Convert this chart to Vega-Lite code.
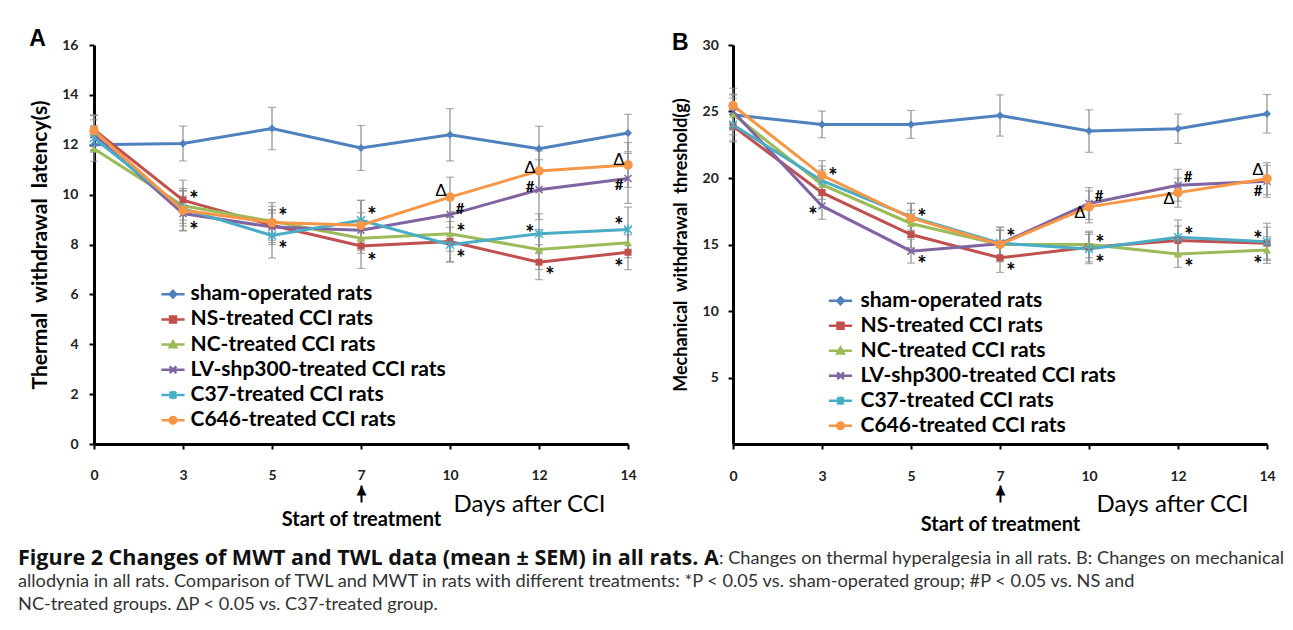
{
  "$schema": "https://vega.github.io/schema/vega-lite/v6.json",
  "padding": {"left": 18, "top": 27, "right": 5, "bottom": 5},
  "background": "white",
  "config": {
    "view": {"stroke": null},
    "axis": {"grid": false, "domainColor": "black", "domainWidth": 3, "tickColor": "black", "tickWidth": 2, "tickSize": 5, "labelFont": "Lato", "labelFontWeight": "bold", "labelFontSize": 14, "labelColor": "#222", "titleFont": "Lato", "titleColor": "black"}
  },
  "datasets": {
    "twl": [
      {"group": "sham-operated rats", "day": 0, "value": 12.0, "sem": 0.3},
      {"group": "sham-operated rats", "day": 3, "value": 12.05, "sem": 0.7},
      {"group": "sham-operated rats", "day": 5, "value": 12.65, "sem": 0.85},
      {"group": "sham-operated rats", "day": 7, "value": 11.87, "sem": 0.9},
      {"group": "sham-operated rats", "day": 10, "value": 12.4, "sem": 1.05},
      {"group": "sham-operated rats", "day": 12, "value": 11.84, "sem": 0.9},
      {"group": "sham-operated rats", "day": 14, "value": 12.47, "sem": 0.75},
      {"group": "NS-treated CCI rats", "day": 0, "value": 12.6, "sem": 0.6},
      {"group": "NS-treated CCI rats", "day": 3, "value": 9.78, "sem": 0.8},
      {"group": "NS-treated CCI rats", "day": 5, "value": 8.77, "sem": 0.6},
      {"group": "NS-treated CCI rats", "day": 7, "value": 7.94, "sem": 0.9},
      {"group": "NS-treated CCI rats", "day": 10, "value": 8.12, "sem": 0.8},
      {"group": "NS-treated CCI rats", "day": 12, "value": 7.29, "sem": 0.7},
      {"group": "NS-treated CCI rats", "day": 14, "value": 7.69, "sem": 0.7},
      {"group": "NC-treated CCI rats", "day": 0, "value": 11.84, "sem": 0.5},
      {"group": "NC-treated CCI rats", "day": 3, "value": 9.55, "sem": 0.7},
      {"group": "NC-treated CCI rats", "day": 5, "value": 8.93, "sem": 0.6},
      {"group": "NC-treated CCI rats", "day": 7, "value": 8.25, "sem": 0.6},
      {"group": "NC-treated CCI rats", "day": 10, "value": 8.43, "sem": 0.7},
      {"group": "NC-treated CCI rats", "day": 12, "value": 7.8, "sem": 0.8},
      {"group": "NC-treated CCI rats", "day": 14, "value": 8.07, "sem": 0.6},
      {"group": "LV-shp300-treated CCI rats", "day": 0, "value": 12.4, "sem": 0.6},
      {"group": "LV-shp300-treated CCI rats", "day": 3, "value": 9.24, "sem": 0.7},
      {"group": "LV-shp300-treated CCI rats", "day": 5, "value": 8.7, "sem": 0.7},
      {"group": "LV-shp300-treated CCI rats", "day": 7, "value": 8.57, "sem": 0.7},
      {"group": "LV-shp300-treated CCI rats", "day": 10, "value": 9.2, "sem": 0.8},
      {"group": "LV-shp300-treated CCI rats", "day": 12, "value": 10.2, "sem": 1.2},
      {"group": "LV-shp300-treated CCI rats", "day": 14, "value": 10.65, "sem": 1.0},
      {"group": "C37-treated CCI rats", "day": 0, "value": 12.27, "sem": 0.5},
      {"group": "C37-treated CCI rats", "day": 3, "value": 9.44, "sem": 0.7},
      {"group": "C37-treated CCI rats", "day": 5, "value": 8.36, "sem": 0.9},
      {"group": "C37-treated CCI rats", "day": 7, "value": 8.97, "sem": 0.8},
      {"group": "C37-treated CCI rats", "day": 10, "value": 7.99, "sem": 0.7},
      {"group": "C37-treated CCI rats", "day": 12, "value": 8.43, "sem": 0.8},
      {"group": "C37-treated CCI rats", "day": 14, "value": 8.6, "sem": 0.9},
      {"group": "C646-treated CCI rats", "day": 0, "value": 12.57, "sem": 0.6},
      {"group": "C646-treated CCI rats", "day": 3, "value": 9.37, "sem": 0.8},
      {"group": "C646-treated CCI rats", "day": 5, "value": 8.88, "sem": 0.8},
      {"group": "C646-treated CCI rats", "day": 7, "value": 8.77, "sem": 1.0},
      {"group": "C646-treated CCI rats", "day": 10, "value": 9.9, "sem": 0.8},
      {"group": "C646-treated CCI rats", "day": 12, "value": 10.95, "sem": 0.8},
      {"group": "C646-treated CCI rats", "day": 14, "value": 11.19, "sem": 0.9}
    ],
    "mwt": [
      {"group": "sham-operated rats", "day": 0, "value": 24.75, "sem": 1.5},
      {"group": "sham-operated rats", "day": 3, "value": 24.03, "sem": 1.0},
      {"group": "sham-operated rats", "day": 5, "value": 24.03, "sem": 1.05},
      {"group": "sham-operated rats", "day": 7, "value": 24.7, "sem": 1.55},
      {"group": "sham-operated rats", "day": 10, "value": 23.53, "sem": 1.6},
      {"group": "sham-operated rats", "day": 12, "value": 23.7, "sem": 1.1},
      {"group": "sham-operated rats", "day": 14, "value": 24.83, "sem": 1.45},
      {"group": "NS-treated CCI rats", "day": 0, "value": 23.9, "sem": 1.2},
      {"group": "NS-treated CCI rats", "day": 3, "value": 18.9, "sem": 1.1},
      {"group": "NS-treated CCI rats", "day": 5, "value": 15.75, "sem": 1.0},
      {"group": "NS-treated CCI rats", "day": 7, "value": 14.0, "sem": 1.1},
      {"group": "NS-treated CCI rats", "day": 10, "value": 14.8, "sem": 1.1},
      {"group": "NS-treated CCI rats", "day": 12, "value": 15.3, "sem": 1.1},
      {"group": "NS-treated CCI rats", "day": 14, "value": 15.1, "sem": 1.2},
      {"group": "NC-treated CCI rats", "day": 0, "value": 24.8, "sem": 1.2},
      {"group": "NC-treated CCI rats", "day": 3, "value": 19.5, "sem": 1.1},
      {"group": "NC-treated CCI rats", "day": 5, "value": 16.58, "sem": 1.0},
      {"group": "NC-treated CCI rats", "day": 7, "value": 15.0, "sem": 1.1},
      {"group": "NC-treated CCI rats", "day": 10, "value": 15.0, "sem": 1.0},
      {"group": "NC-treated CCI rats", "day": 12, "value": 14.28, "sem": 1.0},
      {"group": "NC-treated CCI rats", "day": 14, "value": 14.58, "sem": 1.0},
      {"group": "LV-shp300-treated CCI rats", "day": 0, "value": 25.0, "sem": 1.3},
      {"group": "LV-shp300-treated CCI rats", "day": 3, "value": 17.9, "sem": 1.0},
      {"group": "LV-shp300-treated CCI rats", "day": 5, "value": 14.5, "sem": 0.9},
      {"group": "LV-shp300-treated CCI rats", "day": 7, "value": 15.05, "sem": 1.0},
      {"group": "LV-shp300-treated CCI rats", "day": 10, "value": 18.08, "sem": 1.2},
      {"group": "LV-shp300-treated CCI rats", "day": 12, "value": 19.45, "sem": 1.2},
      {"group": "LV-shp300-treated CCI rats", "day": 14, "value": 19.75, "sem": 1.2},
      {"group": "C37-treated CCI rats", "day": 0, "value": 24.0, "sem": 1.2},
      {"group": "C37-treated CCI rats", "day": 3, "value": 19.8, "sem": 1.1},
      {"group": "C37-treated CCI rats", "day": 5, "value": 17.08, "sem": 1.0},
      {"group": "C37-treated CCI rats", "day": 7, "value": 15.1, "sem": 1.2},
      {"group": "C37-treated CCI rats", "day": 10, "value": 14.66, "sem": 1.1},
      {"group": "C37-treated CCI rats", "day": 12, "value": 15.55, "sem": 1.3},
      {"group": "C37-treated CCI rats", "day": 14, "value": 15.2, "sem": 1.4},
      {"group": "C646-treated CCI rats", "day": 0, "value": 25.45, "sem": 1.3},
      {"group": "C646-treated CCI rats", "day": 3, "value": 20.2, "sem": 1.1},
      {"group": "C646-treated CCI rats", "day": 5, "value": 17.0, "sem": 1.1},
      {"group": "C646-treated CCI rats", "day": 7, "value": 15.0, "sem": 1.3},
      {"group": "C646-treated CCI rats", "day": 10, "value": 17.83, "sem": 1.2},
      {"group": "C646-treated CCI rats", "day": 12, "value": 18.9, "sem": 1.1},
      {"group": "C646-treated CCI rats", "day": 14, "value": 19.95, "sem": 1.2}
    ],
    "annA": [
      {"day": 3, "value": 10.0, "sym": "*", "side": "r"},
      {"day": 3, "value": 8.75, "sym": "*", "side": "r"},
      {"day": 5, "value": 9.3, "sym": "*", "side": "r"},
      {"day": 5, "value": 7.97, "sym": "*", "side": "r"},
      {"day": 7, "value": 9.35, "sym": "*", "side": "r"},
      {"day": 7, "value": 7.48, "sym": "*", "side": "r"},
      {"day": 10, "value": 10.14, "sym": "Δ", "side": "l"},
      {"day": 10, "value": 9.42, "sym": "#", "side": "r"},
      {"day": 10, "value": 8.66, "sym": "*", "side": "r"},
      {"day": 10, "value": 7.61, "sym": "*", "side": "r"},
      {"day": 12, "value": 11.08, "sym": "Δ", "side": "l"},
      {"day": 12, "value": 10.3, "sym": "#", "side": "l"},
      {"day": 12, "value": 8.63, "sym": "*", "side": "l"},
      {"day": 12, "value": 6.94, "sym": "*", "side": "r"},
      {"day": 14, "value": 11.39, "sym": "Δ", "side": "l"},
      {"day": 14, "value": 10.38, "sym": "#", "side": "l"},
      {"day": 14, "value": 8.93, "sym": "*", "side": "l"},
      {"day": 14, "value": 7.25, "sym": "*", "side": "l"}
    ],
    "annB": [
      {"day": 3, "value": 20.45, "sym": "*", "side": "r"},
      {"day": 3, "value": 17.5, "sym": "*", "side": "l"},
      {"day": 5, "value": 17.4, "sym": "*", "side": "r"},
      {"day": 5, "value": 13.86, "sym": "*", "side": "r"},
      {"day": 7, "value": 15.83, "sym": "*", "side": "r"},
      {"day": 7, "value": 13.33, "sym": "*", "side": "r"},
      {"day": 10, "value": 18.65, "sym": "#", "side": "r"},
      {"day": 10, "value": 17.4, "sym": "Δ", "side": "l"},
      {"day": 10, "value": 15.38, "sym": "*", "side": "r"},
      {"day": 10, "value": 13.9, "sym": "*", "side": "r"},
      {"day": 12, "value": 20.08, "sym": "#", "side": "r"},
      {"day": 12, "value": 18.45, "sym": "Δ", "side": "l"},
      {"day": 12, "value": 16.0, "sym": "*", "side": "r"},
      {"day": 12, "value": 13.6, "sym": "*", "side": "r"},
      {"day": 14, "value": 20.58, "sym": "Δ", "side": "l"},
      {"day": 14, "value": 19.0, "sym": "#", "side": "l"},
      {"day": 14, "value": 15.7, "sym": "*", "side": "l"},
      {"day": 14, "value": 13.86, "sym": "*", "side": "l"}
    ],
    "caption": [
      {"line": 1, "seg": "1a", "txt": "Figure 2 Changes of MWT and TWL data (mean ± SEM) in all rats. A"},
      {"line": 1, "seg": "1b", "txt": ": Changes on thermal hyperalgesia in all rats. B: Changes on mechanical"},
      {"line": 2, "seg": "2", "txt": "allodynia in all rats. Comparison of TWL and MWT in rats with different treatments: *P < 0.05 vs. sham-operated group; #P < 0.05 vs. NS and"},
      {"line": 3, "seg": "3", "txt": "NC-treated groups. ΔP < 0.05 vs. C37-treated group."}
    ]
  },
  "vconcat": [
    {
      "hconcat": [
        {
          "width": 534,
          "height": 399,
          "title": {"text": "A", "anchor": "start", "offset": -30.7, "baseline": "alphabetic", "font": "Liberation Sans", "fontSize": 23, "fontWeight": "bold", "color": "black"},
          "encoding": {
            "x": {"field": "day", "type": "ordinal", "scale": {"type": "point", "domain": [0, 3, 5, 7, 10, 12, 14], "padding": 0}, "axis": null},
            "y": {"field": "value", "type": "quantitative", "scale": {"domain": [0, 16], "nice": false}, "axis": {"values": [0, 2, 4, 6, 8, 10, 12, 14, 16], "labelPadding": 11, "title": "Thermal\u00a0 withdrawal\u00a0 latency(s)", "titleFontSize": 21, "titleFontWeight": "bold", "titlePadding": 11.5}}
          },
          "resolve": {"scale": {"x": "independent"}, "axis": {"x": "independent"}},
          "layer": [
            {"data": {"name": "twl"}, "mark": {"type": "errorbar", "color": "#8c8c8c", "thickness": 1.2, "ticks": {"size": 8, "color": "#8c8c8c", "thickness": 1.2}}, "encoding": {"yError": {"field": "sem"}}},
            {"data": {"name": "twl"}, "mark": {"type": "line", "strokeWidth": 3},
             "encoding": {
               "x": {"field": "day", "type": "ordinal", "scale": {"type": "point", "domain": [0, 3, 5, 7, 10, 12, 14], "padding": 0}, "axis": {"orient": "bottom", "labelAngle": 0, "labelPadding": 19.7, "title": "Days after CCI", "titleFontSize": 24, "titleFontWeight": "normal", "titleX": 511, "titleY": 60, "titleAlign": "right", "titleBaseline": "middle"}},
               "color": {"field": "group", "type": "nominal", "scale": {"domain": ["sham-operated rats", "NS-treated CCI rats", "NC-treated CCI rats", "LV-shp300-treated CCI rats", "C37-treated CCI rats", "C646-treated CCI rats"], "range": ["#4F81BD", "#C0504D", "#9BBB59", "#8064A2", "#4BACC6", "#F79646"]},
               "legend": {"orient": "none", "legendX": 68.5, "legendY": 238.7, "title": null, "padding": 0, "labelFont": "Lato", "labelFontWeight": "bold", "labelFontSize": 21, "labelColor": "black", "labelLimit": 400, "symbolSize": 44, "labelOffset": 7, "rowPadding": 3.2, "labelExpr": "datum.label == 'LV-shp300-treated CCI rats' ? '\u00a0' + datum.label : datum.label",
                 "encode": {"symbols": {"update": {
                   "shape": {"signal": "['M-3.5,0H3.5M0,-1L1,0L0,1L-1,0Z','M-3.5,0H3.5M-0.9,-0.9H0.9V0.9H-0.9Z','M-3.5,0H3.5M0,-1L1,0.8H-1Z','M-3.5,0H3.5M-1,-1L1,1M-1,1L1,-1','M-3.5,0H3.5M-1,-1L1,1M-1,1L1,-1M0,-1.3V1.3','M-3.5,0H3.5M-1,0A1,1,0,1,1,1,0A1,1,0,1,1,-1,0Z'][indexof(['sham-operated rats','NS-treated CCI rats','NC-treated CCI rats','LV-shp300-treated CCI rats','C37-treated CCI rats','C646-treated CCI rats'],datum.value)]"},
                   "stroke": {"signal": "['#4F81BD','#C0504D','#9BBB59','#8064A2','#4BACC6','#F79646'][indexof(['sham-operated rats','NS-treated CCI rats','NC-treated CCI rats','LV-shp300-treated CCI rats','C37-treated CCI rats','C646-treated CCI rats'],datum.value)]"},
                   "fill": {"signal": "['#4F81BD','#C0504D','#9BBB59','#8064A2','#4BACC6','#F79646'][indexof(['sham-operated rats','NS-treated CCI rats','NC-treated CCI rats','LV-shp300-treated CCI rats','C37-treated CCI rats','C646-treated CCI rats'],datum.value)]"},
                   "strokeWidth": {"value": 2.5}, "opacity": {"value": 1}, "fillOpacity": {"value": 1}, "strokeOpacity": {"value": 1}}}}}}}},
            {"data": {"name": "twl"}, "transform": [{"filter": "datum.group == 'sham-operated rats'"}], "mark": {"type": "point", "shape": "M0,-1L1,0L0,1L-1,0Z", "filled": true, "color": "#4F81BD", "size": 64, "opacity": 1}},
            {"data": {"name": "twl"}, "transform": [{"filter": "datum.group == 'NS-treated CCI rats'"}], "mark": {"type": "point", "shape": "square", "filled": true, "color": "#C0504D", "size": 49, "opacity": 1}},
            {"data": {"name": "twl"}, "transform": [{"filter": "datum.group == 'NC-treated CCI rats'"}], "mark": {"type": "point", "shape": "triangle-up", "filled": true, "color": "#9BBB59", "size": 64, "opacity": 1}},
            {"data": {"name": "twl"}, "transform": [{"filter": "datum.group == 'LV-shp300-treated CCI rats'"}], "mark": {"type": "point", "shape": "M-1,-1L1,1M-1,1L1,-1", "filled": false, "color": "#8064A2", "size": 49, "strokeWidth": 1.5, "opacity": 1}},
            {"data": {"name": "twl"}, "transform": [{"filter": "datum.group == 'C37-treated CCI rats'"}], "mark": {"type": "point", "shape": "M-1,-1L1,1M-1,1L1,-1M0,-1.3L0,1.3", "filled": false, "color": "#4BACC6", "size": 64, "strokeWidth": 1.5, "opacity": 1}},
            {"data": {"name": "twl"}, "transform": [{"filter": "datum.group == 'C646-treated CCI rats'"}], "mark": {"type": "point", "shape": "circle", "filled": true, "color": "#F79646", "size": 90, "opacity": 1}},
            {"data": {"name": "annA"}, "transform": [{"filter": "datum.sym == '*' && datum.side == 'r'"}], "mark": {"type": "text", "font": "Lato", "fontWeight": "bold", "fontSize": 22, "dx": 11, "dy": 5, "color": "black"},
             "encoding": {"text": {"field": "sym"},
               "x": {"field": "day", "type": "ordinal", "scale": {"type": "point", "domain": [0, 3, 5, 7, 10, 12, 14], "padding": 0}, "axis": {"orient": "bottom", "values": [7], "domain": false, "offset": 41, "tickSize": 17, "tickWidth": 2, "tickColor": "black", "labelAngle": 0, "labelExpr": "'Start of treatment'", "labelFont": "Lato", "labelFontWeight": "bold", "labelFontSize": 20, "labelColor": "black", "labelPadding": 7, "title": null}}}},
            {"data": {"name": "annA"}, "transform": [{"filter": "datum.sym == '*' && datum.side == 'l'"}], "mark": {"type": "text", "font": "Lato", "fontWeight": "bold", "fontSize": 22, "dx": -9, "dy": 5, "color": "black"}, "encoding": {"text": {"field": "sym"}}},
            {"data": {"name": "annA"}, "transform": [{"filter": "datum.sym == '#' && datum.side == 'r'"}], "mark": {"type": "text", "font": "Lato", "fontWeight": "bold", "fontSize": 15, "dx": 10, "color": "black"},
             "encoding": {"text": {"field": "sym"},
               "x": {"field": "day", "type": "ordinal", "scale": {"type": "point", "domain": [0, 3, 5, 7, 10, 12, 14], "padding": 0}, "axis": {"orient": "bottom", "values": [7], "domain": false, "ticks": false, "offset": 39, "labelAngle": 0, "labelExpr": "'▲'", "labelFont": "DejaVu Sans", "labelFontWeight": "normal", "labelFontSize": 13, "labelColor": "black", "labelPadding": 0, "title": null}}}},
            {"data": {"name": "annA"}, "transform": [{"filter": "datum.sym == '#' && datum.side == 'l'"}], "mark": {"type": "text", "font": "Lato", "fontWeight": "bold", "fontSize": 15, "dx": -9, "color": "black"}, "encoding": {"text": {"field": "sym"}}},
            {"data": {"name": "annA"}, "transform": [{"filter": "datum.sym == 'Δ'"}], "mark": {"type": "text", "font": "Liberation Sans", "fontSize": 17, "dx": -9, "color": "black"}, "encoding": {"text": {"field": "sym"}}}
          ]
        },
        {
          "width": 534,
          "height": 399,
          "title": {"text": "B", "anchor": "start", "offset": -35.3, "baseline": "alphabetic", "font": "Liberation Sans", "fontSize": 23, "fontWeight": "bold", "color": "black"},
          "encoding": {
            "x": {"field": "day", "type": "ordinal", "scale": {"type": "point", "domain": [0, 3, 5, 7, 10, 12, 14], "padding": 0}, "axis": null},
            "y": {"field": "value", "type": "quantitative", "scale": {"domain": [0, 30], "nice": false}, "axis": {"values": [5, 10, 15, 20, 25, 30], "labelPadding": 9.7, "title": "Mechanical\u00a0 withdrawal\u00a0 threshold(g)", "titleFontSize": 18, "titleFontWeight": "bold", "titlePadding": 12}}
          },
          "resolve": {"scale": {"x": "independent"}, "axis": {"x": "independent"}},
          "layer": [
            {"data": {"name": "mwt"}, "mark": {"type": "errorbar", "color": "#8c8c8c", "thickness": 1.2, "ticks": {"size": 8, "color": "#8c8c8c", "thickness": 1.2}}, "encoding": {"yError": {"field": "sem"}}},
            {"data": {"name": "mwt"}, "mark": {"type": "line", "strokeWidth": 3},
             "encoding": {
               "x": {"field": "day", "type": "ordinal", "scale": {"type": "point", "domain": [0, 3, 5, 7, 10, 12, 14], "padding": 0}, "axis": {"orient": "bottom", "labelAngle": 0, "labelPadding": 20.5, "title": "Days after CCI", "titleFontSize": 24, "titleFontWeight": "normal", "titleX": 515, "titleY": 60, "titleAlign": "right", "titleBaseline": "middle"}},
               "color": {"field": "group", "type": "nominal", "scale": {"domain": ["sham-operated rats", "NS-treated CCI rats", "NC-treated CCI rats", "LV-shp300-treated CCI rats", "C37-treated CCI rats", "C646-treated CCI rats"], "range": ["#4F81BD", "#C0504D", "#9BBB59", "#8064A2", "#4BACC6", "#F79646"]},
               "legend": {"orient": "none", "legendX": 97, "legendY": 245.3, "title": null, "padding": 0, "labelFont": "Lato", "labelFontWeight": "bold", "labelFontSize": 21, "labelColor": "black", "labelLimit": 400, "symbolSize": 44, "labelOffset": 9.5, "rowPadding": 3.0, "labelExpr": "datum.label == 'LV-shp300-treated CCI rats' ? '\u00a0' + datum.label : datum.label",
                 "encode": {"symbols": {"update": {
                   "shape": {"signal": "['M-3.5,0H3.5M0,-1L1,0L0,1L-1,0Z','M-3.5,0H3.5M-0.9,-0.9H0.9V0.9H-0.9Z','M-3.5,0H3.5M0,-1L1,0.8H-1Z','M-3.5,0H3.5M-1,-1L1,1M-1,1L1,-1','M-3.5,0H3.5M-1,-1L1,1M-1,1L1,-1M0,-1.3V1.3','M-3.5,0H3.5M-1,0A1,1,0,1,1,1,0A1,1,0,1,1,-1,0Z'][indexof(['sham-operated rats','NS-treated CCI rats','NC-treated CCI rats','LV-shp300-treated CCI rats','C37-treated CCI rats','C646-treated CCI rats'],datum.value)]"},
                   "stroke": {"signal": "['#4F81BD','#C0504D','#9BBB59','#8064A2','#4BACC6','#F79646'][indexof(['sham-operated rats','NS-treated CCI rats','NC-treated CCI rats','LV-shp300-treated CCI rats','C37-treated CCI rats','C646-treated CCI rats'],datum.value)]"},
                   "fill": {"signal": "['#4F81BD','#C0504D','#9BBB59','#8064A2','#4BACC6','#F79646'][indexof(['sham-operated rats','NS-treated CCI rats','NC-treated CCI rats','LV-shp300-treated CCI rats','C37-treated CCI rats','C646-treated CCI rats'],datum.value)]"},
                   "strokeWidth": {"value": 2.5}, "opacity": {"value": 1}, "fillOpacity": {"value": 1}, "strokeOpacity": {"value": 1}}}}}}}},
            {"data": {"name": "mwt"}, "transform": [{"filter": "datum.group == 'sham-operated rats'"}], "mark": {"type": "point", "shape": "M0,-1L1,0L0,1L-1,0Z", "filled": true, "color": "#4F81BD", "size": 64, "opacity": 1}},
            {"data": {"name": "mwt"}, "transform": [{"filter": "datum.group == 'NS-treated CCI rats'"}], "mark": {"type": "point", "shape": "square", "filled": true, "color": "#C0504D", "size": 49, "opacity": 1}},
            {"data": {"name": "mwt"}, "transform": [{"filter": "datum.group == 'NC-treated CCI rats'"}], "mark": {"type": "point", "shape": "triangle-up", "filled": true, "color": "#9BBB59", "size": 64, "opacity": 1}},
            {"data": {"name": "mwt"}, "transform": [{"filter": "datum.group == 'LV-shp300-treated CCI rats'"}], "mark": {"type": "point", "shape": "M-1,-1L1,1M-1,1L1,-1", "filled": false, "color": "#8064A2", "size": 49, "strokeWidth": 1.5, "opacity": 1}},
            {"data": {"name": "mwt"}, "transform": [{"filter": "datum.group == 'C37-treated CCI rats'"}], "mark": {"type": "point", "shape": "M-1,-1L1,1M-1,1L1,-1M0,-1.3L0,1.3", "filled": false, "color": "#4BACC6", "size": 64, "strokeWidth": 1.5, "opacity": 1}},
            {"data": {"name": "mwt"}, "transform": [{"filter": "datum.group == 'C646-treated CCI rats'"}], "mark": {"type": "point", "shape": "circle", "filled": true, "color": "#F79646", "size": 90, "opacity": 1}},
            {"data": {"name": "annB"}, "transform": [{"filter": "datum.sym == '*' && datum.side == 'r'"}], "mark": {"type": "text", "font": "Lato", "fontWeight": "bold", "fontSize": 22, "dx": 11, "dy": 5, "color": "black"},
             "encoding": {"text": {"field": "sym"},
               "x": {"field": "day", "type": "ordinal", "scale": {"type": "point", "domain": [0, 3, 5, 7, 10, 12, 14], "padding": 0}, "axis": {"orient": "bottom", "values": [7], "domain": false, "offset": 41, "tickSize": 17, "tickWidth": 2, "tickColor": "black", "labelAngle": 0, "labelExpr": "'Start of treatment'", "labelFont": "Lato", "labelFontWeight": "bold", "labelFontSize": 20, "labelColor": "black", "labelPadding": 12, "title": null}}}},
            {"data": {"name": "annB"}, "transform": [{"filter": "datum.sym == '*' && datum.side == 'l'"}], "mark": {"type": "text", "font": "Lato", "fontWeight": "bold", "fontSize": 22, "dx": -9, "dy": 5, "color": "black"}, "encoding": {"text": {"field": "sym"}}},
            {"data": {"name": "annB"}, "transform": [{"filter": "datum.sym == '#' && datum.side == 'r'"}], "mark": {"type": "text", "font": "Lato", "fontWeight": "bold", "fontSize": 15, "dx": 10, "color": "black"},
             "encoding": {"text": {"field": "sym"},
               "x": {"field": "day", "type": "ordinal", "scale": {"type": "point", "domain": [0, 3, 5, 7, 10, 12, 14], "padding": 0}, "axis": {"orient": "bottom", "values": [7], "domain": false, "ticks": false, "offset": 39, "labelAngle": 0, "labelExpr": "'▲'", "labelFont": "DejaVu Sans", "labelFontWeight": "normal", "labelFontSize": 13, "labelColor": "black", "labelPadding": 0, "title": null}}}},
            {"data": {"name": "annB"}, "transform": [{"filter": "datum.sym == '#' && datum.side == 'l'"}], "mark": {"type": "text", "font": "Lato", "fontWeight": "bold", "fontSize": 15, "dx": -9, "color": "black"}, "encoding": {"text": {"field": "sym"}}},
            {"data": {"name": "annB"}, "transform": [{"filter": "datum.sym == 'Δ'"}], "mark": {"type": "text", "font": "Liberation Sans", "fontSize": 17, "dx": -9, "color": "black"}, "encoding": {"text": {"field": "sym"}}}
          ]
        }
      ],
      "spacing": 35,
      "resolve": {"scale": {"x": "independent", "y": "independent", "color": "independent"}, "legend": {"color": "independent"}}
    },
    {
      "width": 1259,
      "height": 69,
      "data": {"name": "caption"},
      "encoding": {
        "x": {"datum": 0, "type": "quantitative", "scale": {"domain": [0, 1]}, "axis": null},
        "y": {"field": "line", "type": "ordinal", "scale": {"type": "point", "domain": [1, 2, 3], "padding": 0.5}, "axis": null},
        "text": {"field": "txt"}
      },
      "layer": [
        {"transform": [{"filter": "datum.seg == '1a'"}], "mark": {"type": "text", "align": "left", "font": "Open Sans", "fontWeight": "bold", "fontSize": 21.5, "color": "#111", "dx": -76}},
        {"transform": [{"filter": "datum.seg == '1b'"}], "mark": {"type": "text", "align": "left", "font": "Lato", "fontSize": 18.2, "color": "#333", "dx": 625}},
        {"transform": [{"filter": "datum.seg == '2' || datum.seg == '3'"}], "mark": {"type": "text", "align": "left", "font": "Lato", "fontSize": 18.2, "color": "#333", "dx": -76}}
      ]
    }
  ],
  "spacing": 13
}
